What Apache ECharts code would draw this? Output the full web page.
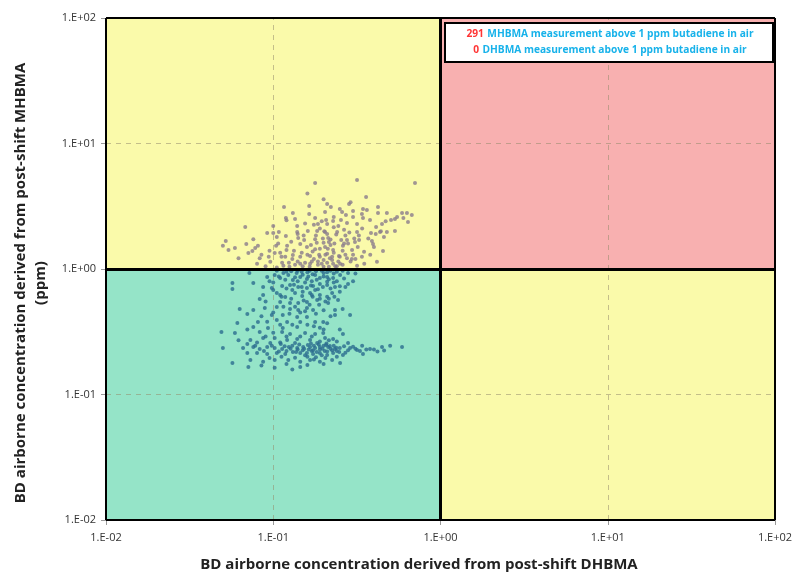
<!DOCTYPE html>
<html>
<head>
<meta charset="utf-8">
<script src="https://cdn.jsdelivr.net/npm/echarts@6/dist/echarts.min.js"></script>
<style>html,body{margin:0;padding:0;background:#fff;}#c{width:796px;height:577px;}</style>
</head>
<body>
<div id="c"></div>
<script>
// Axis ticks (log scale)
const tickValues = [0.01, 0.1, 1, 10, 100];
const xTitle = 'BD airborne concentration derived from post-shift DHBMA';
const yTitle1 = 'BD airborne concentration derived from post-shift MHBMA';
const yTitle2 = '(ppm)';
const legendLine1 = ['291', 'MHBMA measurement above 1 ppm butadiene in air'];
const legendLine2 = ['0', 'DHBMA measurement above 1 ppm butadiene in air'];

// Points above 1 ppm (MHBMA) [DHBMA-derived, MHBMA-derived]
const abovePoints = [
[0.178,4.85],[0.317,5.12],[0.704,4.85],[0.359,3.75],[0.116,3.12],[0.164,3.18],[0.210,3.30],[0.221,3.12],
[0.284,3.30],[0.344,3.01],[0.423,3.12],[0.164,2.74],[0.131,2.79],[0.204,2.85],[0.258,2.85],[0.272,2.69],
[0.339,2.74],[0.363,2.95],[0.423,2.79],[0.478,2.79],[0.589,2.79],[0.630,2.79],[0.674,2.69],[0.119,2.55],
[0.135,2.50],[0.178,2.55],[0.207,2.46],[0.228,2.41],[0.254,2.46],[0.300,2.60],[0.344,2.55],[0.379,2.46],
[0.506,2.46],[0.534,2.50],[0.639,2.37],[0.068,2.16],[0.139,2.20],[0.185,2.28],[0.210,2.28],[0.276,2.33],
[0.317,2.28],[0.447,2.28],[0.412,2.16],[0.108,1.97],[0.100,1.94],[0.092,1.94],[0.139,1.97],[0.161,2.01],
[0.183,2.01],[0.204,1.97],[0.241,1.97],[0.265,2.05],[0.317,1.97],[0.384,1.94],[0.435,1.97],[0.478,1.97],
[0.534,2.01],[0.076,1.73],[0.052,1.67],[0.105,1.80],[0.119,1.83],[0.141,1.77],[0.153,1.70],[0.178,1.73],
[0.213,1.77],[0.215,1.64],[0.276,1.70],[0.308,1.64],[0.326,1.70],[0.389,1.67],[0.395,1.58],[0.459,1.80],
[0.050,1.53],[0.059,1.47],[0.069,1.58],[0.078,1.47],[0.081,1.53],[0.054,1.42],[0.104,1.53],[0.121,1.53],
[0.145,1.58],[0.159,1.50],[0.178,1.44],[0.204,1.50],[0.228,1.42],[0.261,1.53],[0.296,1.42],[0.349,1.37],
[0.453,1.39],[0.062,1.22],[0.071,1.34],[0.075,1.39],[0.083,1.22],[0.094,1.25],[0.102,1.34],[0.118,1.25],
[0.131,1.29],[0.145,1.25],[0.166,1.27],[0.190,1.25],[0.210,1.32],[0.225,1.25],[0.247,1.27],[0.276,1.22],
[0.339,1.25],[0.417,1.14],[0.080,1.10],[0.096,1.14],[0.113,1.12],[0.124,1.12],[0.145,1.10],[0.166,1.10],
[0.185,1.08],[0.210,1.12],[0.228,1.10],[0.251,1.10],[0.317,1.06],
[0.19,1.45],[0.20,1.62],[0.22,1.55],[0.20,1.18],[0.23,1.35],[0.21,1.90],[0.19,2.10],[0.23,2.15],
[0.16,1.30],[0.17,1.15],[0.24,1.05],[0.20,1.04],[0.15,1.05],[0.13,1.20],[0.22,1.72],[0.25,1.25],
[0.26,1.40],[0.28,1.60],[0.30,1.30],[0.12,1.42],[0.11,1.35],[0.14,1.90],[0.18,1.85],[0.32,1.50],[0.27,1.85],
[0.105,1.03],[0.115,1.06],[0.125,1.04],[0.135,1.08],[0.14,1.15],[0.155,1.12],[0.165,1.04],[0.175,1.20],
[0.185,1.15],[0.195,1.10],[0.205,1.30],[0.215,1.04],[0.225,1.18],[0.235,1.05],[0.245,1.15],[0.26,1.08],
[0.27,1.30],[0.29,1.15],[0.31,1.20],[0.35,1.10],[0.38,1.30],[0.40,1.50],[0.09,1.05],[0.085,1.30],
[0.095,1.40],[0.107,1.60],[0.112,1.25],[0.128,1.65],[0.133,1.40],[0.148,1.35],[0.152,1.85],[0.168,1.55],
[0.172,1.38],[0.182,1.62],[0.188,1.30],[0.198,1.75],[0.202,2.00],[0.212,1.45],[0.218,1.22],[0.232,1.60],
[0.238,1.88],[0.245,2.20],[0.255,1.70],[0.265,1.60],[0.285,1.95],[0.295,1.20],[0.305,1.75],[0.325,1.85],
[0.34,2.10],[0.37,1.75],[0.41,1.90],[0.44,2.00],[0.47,2.40],[0.55,2.60],[0.60,2.55],[0.195,2.40],
[0.175,2.25],[0.155,2.30],[0.23,2.60],[0.25,3.00],[0.30,2.90],[0.29,3.40],[0.20,3.60],[0.12,2.45],
[0.10,2.20],[0.16,4.00]
];

// Points below 1 ppm (MHBMA)
const belowPoints = [
[0.072,0.929],[0.057,0.773],[0.057,0.693],[0.076,0.773],[0.092,0.864],[0.102,0.896],[0.110,0.848],[0.123,0.896],
[0.131,0.817],[0.145,0.864],[0.159,0.833],[0.178,0.896],[0.190,0.848],[0.210,0.864],[0.228,0.848],[0.251,0.896],
[0.280,0.759],[0.087,0.719],[0.098,0.706],[0.113,0.732],[0.126,0.746],[0.141,0.719],[0.159,0.706],[0.173,0.732],
[0.210,0.746],[0.234,0.719],[0.087,0.621],[0.105,0.644],[0.118,0.598],[0.135,0.644],[0.149,0.610],[0.166,0.644],
[0.190,0.621],[0.225,0.644],[0.083,0.577],[0.110,0.546],[0.126,0.536],[0.141,0.536],[0.159,0.546],[0.183,0.566],
[0.244,0.566],[0.213,0.536],[0.063,0.480],[0.076,0.471],[0.089,0.489],[0.105,0.498],[0.126,0.480],[0.141,0.471],
[0.159,0.489],[0.173,0.471],[0.234,0.471],[0.234,0.430],[0.288,0.430],[0.070,0.438],[0.098,0.430],[0.114,0.430],
[0.139,0.415],[0.159,0.415],[0.061,0.371],[0.081,0.378],[0.105,0.392],[0.121,0.378],[0.145,0.378],[0.178,0.378],
[0.199,0.378],[0.076,0.345],[0.093,0.339],[0.114,0.339],[0.139,0.345],[0.049,0.315],[0.059,0.309],[0.083,0.315],
[0.113,0.315],[0.126,0.303],[0.155,0.309],[0.178,0.303],[0.199,0.309],[0.261,0.303],[0.073,0.272],[0.087,0.282],
[0.102,0.282],[0.121,0.272],[0.139,0.277],[0.166,0.272],[0.204,0.282],[0.228,0.277],[0.070,0.253],[0.096,0.257],
[0.111,0.253],[0.135,0.257],[0.161,0.248],[0.183,0.257],[0.207,0.248],[0.280,0.257],[0.050,0.235],[0.066,0.235],
[0.076,0.239],[0.083,0.230],[0.092,0.239],[0.102,0.235],[0.113,0.230],[0.124,0.239],[0.139,0.235],[0.151,0.239],
[0.166,0.239],[0.178,0.235],[0.190,0.239],[0.213,0.239],[0.234,0.230],[0.288,0.235],[0.317,0.226],[0.379,0.230],
[0.447,0.239],[0.589,0.239],[0.070,0.214],[0.080,0.214],[0.092,0.210],[0.105,0.214],[0.118,0.210],[0.131,0.218],
[0.145,0.214],[0.159,0.214],[0.173,0.210],[0.190,0.214],[0.210,0.206],[0.228,0.214],[0.261,0.206],[0.344,0.210],
[0.057,0.178],[0.073,0.188],[0.087,0.182],[0.102,0.188],[0.123,0.188],[0.145,0.182],[0.166,0.188],[0.190,0.182],
[0.225,0.188],[0.251,0.178],[0.071,0.166],[0.102,0.163],[0.145,0.166],
[0.15,0.225],[0.17,0.222],[0.19,0.228],[0.21,0.220],[0.20,0.245],[0.16,0.200],[0.18,0.198],[0.22,0.232],
[0.24,0.222],[0.14,0.228],[0.13,0.245],[0.12,0.222],[0.175,0.245],[0.195,0.205],[0.23,0.245],[0.25,0.235],
[0.27,0.215],[0.30,0.240],[0.33,0.222],[0.36,0.228],[0.42,0.220],[0.50,0.245],
[0.12,0.95],[0.14,0.97],[0.16,0.94],[0.18,0.96],[0.20,0.93],[0.22,0.97],[0.24,0.95],[0.15,0.90],
[0.17,0.80],[0.19,0.76],[0.21,0.79],[0.23,0.78],[0.13,0.68],[0.15,0.66],[0.17,0.62],[0.19,0.58],
[0.21,0.60],[0.11,0.62],[0.10,0.78],[0.25,0.66],[0.27,0.72],[0.30,0.80],[0.31,0.92],[0.135,0.86],
[0.155,0.78],[0.185,0.69],[0.205,0.55],[0.165,0.52],[0.145,0.45],[0.125,0.44],[0.175,0.35],[0.20,0.33],
[0.11,0.26],[0.09,0.29],[0.08,0.26],
[0.105,0.97],[0.115,0.93],[0.128,0.96],[0.138,0.93],[0.148,0.95],[0.165,0.97],[0.172,0.91],[0.195,0.97],
[0.21,0.94],[0.23,0.92],[0.26,0.97],[0.28,0.93],[0.108,0.87],[0.118,0.82],[0.14,0.80],[0.162,0.87],
[0.182,0.82],[0.20,0.87],[0.215,0.83],[0.24,0.80],[0.265,0.84],[0.095,0.80],[0.10,0.68],[0.12,0.70],
[0.133,0.75],[0.148,0.72],[0.168,0.74],[0.178,0.68],[0.198,0.72],[0.22,0.70],[0.25,0.73],[0.112,0.60],
[0.128,0.58],[0.152,0.56],[0.172,0.60],[0.188,0.52],[0.215,0.58],[0.232,0.60],[0.09,0.55],[0.10,0.45],
[0.115,0.50],[0.135,0.50],[0.155,0.46],[0.18,0.44],[0.20,0.47],[0.22,0.42],[0.26,0.48],[0.085,0.42],
[0.092,0.38],[0.11,0.36],[0.13,0.36],[0.16,0.36],[0.19,0.34],[0.21,0.37],[0.25,0.33],[0.07,0.33],
[0.10,0.31],[0.12,0.29],[0.145,0.29],[0.17,0.29],[0.19,0.265],[0.215,0.27],[0.24,0.265],[0.062,0.27],
[0.078,0.245],[0.088,0.222],[0.098,0.245],[0.108,0.22],[0.117,0.242],[0.127,0.232],[0.137,0.218],[0.143,0.25],
[0.153,0.232],[0.163,0.228],[0.168,0.255],[0.173,0.225],[0.182,0.218],[0.187,0.25],[0.197,0.232],[0.203,0.222],
[0.208,0.255],[0.218,0.243],[0.225,0.225],[0.238,0.236],[0.248,0.218],[0.265,0.242],[0.28,0.225],[0.31,0.232],
[0.34,0.245],[0.40,0.228],[0.46,0.224],[0.112,0.20],[0.135,0.196],[0.155,0.205],[0.175,0.19],[0.205,0.195],
[0.24,0.20],[0.095,0.195],[0.085,0.17],[0.12,0.175],[0.16,0.172],[0.13,0.158],[0.20,0.175]
];

function fmt(v){
  const e = Math.round(Math.log10(v));
  return '1.E' + (e < 0 ? '-' : '+') + String(Math.abs(e)).padStart(2, '0');
}

const chart = echarts.init(document.getElementById('c'), null, {renderer: 'canvas'});
const lo = tickValues[0], hi = tickValues[tickValues.length - 1], mid = tickValues[2];
const titleFont = 'bold 15px "Open Sans"';
const legFont = 'bold 10.2px "Open Sans"';

chart.setOption({
  animation: false,
  backgroundColor: '#ffffff',
  grid: {left: 106, right: 21, top: 18, bottom: 57, containLabel: false},
  xAxis: {
    type: 'log', logBase: 10, min: lo, max: hi, interval: 1,
    axisLine: {show: false},
    axisTick: {show: true, length: 5, lineStyle: {color: '#999'}},
    splitLine: {show: false},
    axisLabel: {formatter: fmt, color: '#333', fontFamily: 'Open Sans', fontSize: 11, margin: 12}
  },
  yAxis: {
    type: 'log', logBase: 10, min: lo, max: hi, interval: 1,
    axisLine: {show: false},
    axisTick: {show: true, length: 5, lineStyle: {color: '#999'}},
    splitLine: {show: false},
    axisLabel: {formatter: fmt, color: '#333', fontFamily: 'Open Sans', fontSize: 11, margin: 10}
  },
  series: [
    {
      type: 'scatter', data: [], silent: true,
      markArea: {
        silent: true, z: 1,
        data: [
          [{coord: [lo, mid], itemStyle: {color: '#FAFAAA'}}, {coord: [mid, hi]}],
          [{coord: [mid, mid], itemStyle: {color: '#F8B0B0'}}, {coord: [hi, hi]}],
          [{coord: [lo, lo], itemStyle: {color: '#95E4C8'}}, {coord: [mid, mid]}],
          [{coord: [mid, lo], itemStyle: {color: '#FAFAAA'}}, {coord: [hi, mid]}]
        ]
      },
      markLine: {
        silent: true, symbol: 'none', z: 1.5, label: {show: false},
        lineStyle: {type: [5, 5], color: 'rgba(150,140,110,0.55)', width: 1},
        data: [{xAxis: tickValues[1]}, {xAxis: tickValues[3]}, {yAxis: tickValues[1]}, {yAxis: tickValues[3]}]
      }
    },
    {
      name: 'above', type: 'scatter', data: abovePoints, symbolSize: 4, z: 3,
      itemStyle: {color: '#8a7c8c'}
    },
    {
      name: 'below', type: 'scatter', data: belowPoints, symbolSize: 4, z: 3,
      itemStyle: {color: '#2b6c8f'}
    },
    {
      type: 'scatter', data: [], silent: true,
      markLine: {
        silent: true, symbol: 'none', z: 5, label: {show: false},
        lineStyle: {type: 'solid', color: '#000', width: 2},
        data: [
          {xAxis: lo}, {xAxis: hi}, {yAxis: lo}, {yAxis: hi},
          {xAxis: mid, lineStyle: {width: 3}}, {yAxis: mid, lineStyle: {width: 3}}
        ]
      }
    }
  ],
  graphic: [
    {type: 'text', x: 419, y: 565, style: {text: xTitle, font: titleFont, fill: '#222', textAlign: 'center', textVerticalAlign: 'middle'}},
    {type: 'text', x: 21, y: 283, rotation: Math.PI / 2, style: {text: yTitle1, font: titleFont, fill: '#222', textAlign: 'center', textVerticalAlign: 'middle'}},
    {type: 'text', x: 41, y: 283, rotation: Math.PI / 2, style: {text: yTitle2, font: titleFont, fill: '#222', textAlign: 'center', textVerticalAlign: 'middle'}},
    {type: 'rect', shape: {x: 445, y: 23, width: 328, height: 39}, style: {fill: '#fff', stroke: '#000', lineWidth: 2}, z: 10},
    {type: 'text', x: 610, y: 34, z: 11, style: {
      text: '{r|' + legendLine1[0] + '} {b|' + legendLine1[1] + '}',
      rich: {r: {fill: '#ff3535', font: legFont}, b: {fill: '#17b2ea', font: legFont}},
      textAlign: 'center', textVerticalAlign: 'middle'}},
    {type: 'text', x: 610, y: 50, z: 11, style: {
      text: '{r|' + legendLine2[0] + '} {b|' + legendLine2[1] + '}',
      rich: {r: {fill: '#ff3535', font: legFont}, b: {fill: '#17b2ea', font: legFont}},
      textAlign: 'center', textVerticalAlign: 'middle'}}
  ]
});
</script>
</body>
</html>
